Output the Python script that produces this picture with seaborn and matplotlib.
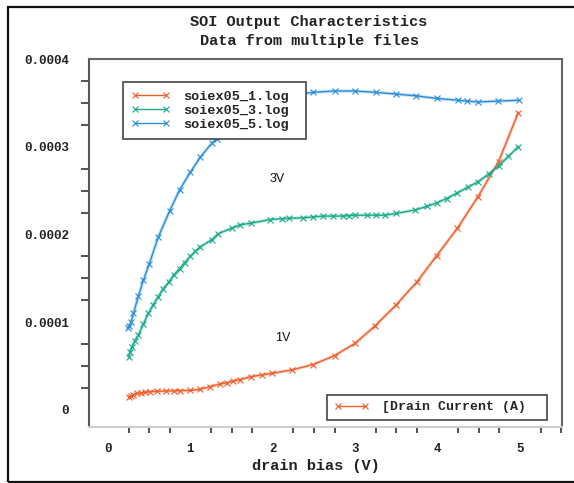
import matplotlib
matplotlib.use("Agg")
import matplotlib.pyplot as plt
from matplotlib.lines import Line2D
from matplotlib.patches import Rectangle
from matplotlib.ticker import MultipleLocator
import seaborn as sns
import pandas as pd

# ---- data ----
v1_x = [0.25, 0.28, 0.30, 0.35, 0.40, 0.45, 0.51, 0.60, 0.71, 0.80, 0.87, 1.00,
        1.12, 1.24, 1.36, 1.44, 1.52, 1.60, 1.74, 1.87, 1.99, 2.23, 2.49, 2.75,
        3.00, 3.24, 3.50, 3.75, 3.99, 4.24, 4.49, 4.74, 4.98]
v1_y = [0.152, 0.160, 0.170, 0.190, 0.195, 0.200, 0.209, 0.213, 0.216, 0.218,
        0.220, 0.222, 0.236, 0.266, 0.296, 0.310, 0.330, 0.345, 0.380, 0.400,
        0.418, 0.456, 0.518, 0.620, 0.760, 0.957, 1.200, 1.460, 1.760, 2.070,
        2.430, 2.830, 3.390]

v3_x = [0.25, 0.27, 0.29, 0.33, 0.37, 0.43, 0.49, 0.55, 0.61, 0.67, 0.74, 0.80,
        0.87, 0.93, 1.00, 1.06, 1.12, 1.26, 1.34, 1.50, 1.60, 1.74, 1.97, 2.11,
        2.20, 2.37, 2.49, 2.61, 2.73, 2.85, 2.92, 3.00, 3.14, 3.25, 3.36, 3.50,
        3.73, 3.87, 3.99, 4.11, 4.23, 4.37, 4.49, 4.62, 4.74, 4.86, 4.98]
v3_y = [0.608, 0.660, 0.722, 0.790, 0.855, 0.980, 1.100, 1.200, 1.290, 1.380,
        1.460, 1.540, 1.610, 1.680, 1.750, 1.810, 1.860, 1.940, 2.010, 2.070,
        2.110, 2.130, 2.170, 2.180, 2.185, 2.190, 2.200, 2.210, 2.210, 2.210,
        2.215, 2.220, 2.220, 2.220, 2.220, 2.240, 2.280, 2.320, 2.360, 2.410,
        2.470, 2.540, 2.600, 2.690, 2.780, 2.890, 3.000]

v5_x = [0.24, 0.26, 0.28, 0.31, 0.37, 0.43, 0.50, 0.61, 0.75, 0.87, 1.00, 1.12,
        1.26, 1.32, 1.50, 1.75, 2.00, 2.25, 2.49, 2.75, 3.00, 3.25, 3.50, 3.74,
        3.99, 4.25, 4.36, 4.49, 4.73, 4.99]
v5_y = [0.934, 0.960, 1.000, 1.100, 1.300, 1.480, 1.660, 1.970, 2.270, 2.510,
        2.710, 2.880, 3.040, 3.090, 3.270, 3.450, 3.540, 3.590, 3.620, 3.635,
        3.635, 3.620, 3.600, 3.580, 3.550, 3.530, 3.520, 3.510, 3.520, 3.530]

y_scale = 1e-4
file_names = ["soiex05_1.log", "soiex05_3.log", "soiex05_5.log"]
colors = ["#ef5f2c", "#1aab8a", "#2b8fd8"]
yticks = [0, 0.0001, 0.0002, 0.0003, 0.0004]
ytick_labels = ["0", "0.0001", "0.0002", "0.0003", "0.0004"]
xticks = [0, 1, 2, 3, 4, 5]
xtick_labels = ["0", "1", "2", "3", "4", "5"]
title_lines = ["SOI Output Characteristics", "Data from multiple files"]
xlabel = "drain bias (V)"
second_legend_label = "[Drain Current (A)"
annotations = [("3V", 2.05, 0.000263), ("1V", 2.12, 0.0000821)]

series = [(v1_x, v1_y), (v3_x, v3_y), (v5_x, v5_y)]

sns.set_style("white")
mono = ["Liberation Mono", "DejaVu Sans Mono"]

fig = plt.figure(figsize=(5.74, 4.83), dpi=100)
ax = fig.add_axes([89 / 574, 1 - 427 / 483, 473 / 574, 368 / 483])

for name, (xs, ys), c in zip(file_names, series, colors):
    df = pd.DataFrame({"x": xs, "y": [v * y_scale for v in ys]})
    sns.lineplot(data=df, x="x", y="y", ax=ax, color=c, linewidth=2.4,
                 alpha=0.28, sort=False, legend=False)
    sns.lineplot(data=df, x="x", y="y", ax=ax, color=c, linewidth=1.0,
                 marker="x", markersize=4.5, markeredgewidth=0.8,
                 markeredgecolor=c, sort=False, legend=False)

ax.set_xlim(-0.23, 5.51)
ax.set_ylim(-0.0000194, 0.0004)
ax.set_yticks(yticks, labels=ytick_labels)
ax.set_xticks(xticks, labels=xtick_labels)
ax.xaxis.set_minor_locator(MultipleLocator(0.25))
ax.yaxis.set_minor_locator(MultipleLocator(0.000025))

ax.tick_params(axis="y", which="major", direction="out", length=11.5, width=1.3,
               color="#aaaaaa", pad=3, labelsize=9, labelcolor="#222222")
ax.tick_params(axis="y", which="minor", direction="out", length=5.8, width=1.3,
               color="#444444", left=True)
ax.tick_params(axis="x", which="major", direction="out", length=6.5, width=1.3,
               color="#222222", pad=5, labelsize=9, labelcolor="#222222")
ax.tick_params(axis="x", which="minor", direction="out", length=4, width=1.2,
               color="#333333", bottom=True)
for lab in ax.get_xticklabels() + ax.get_yticklabels():
    lab.set_family(mono)
    lab.set_fontweight("bold")

ax.set_xlabel(xlabel, family=mono, fontweight="bold", fontsize=11, color="#222222")
ax.xaxis.set_label_coords((316 - 89) / 473, (427 - 466) / 368)
ax.xaxis.label.set_va("center")
ax.set_ylabel("")

for side, col in [("left", "#555555"), ("top", "#666666"), ("right", "#666666"),
                  ("bottom", "#cccccc")]:
    ax.spines[side].set_visible(True)
    ax.spines[side].set_color(col)
    ax.spines[side].set_linewidth(1.5)

for txt, x, y in annotations:
    ax.text(x, y, txt, fontsize=9, family=["Liberation Sans", "DejaVu Sans"],
            ha="center", va="center", color="#111111")

# legend 1
handles = [Line2D([], [], color=c, lw=1.0, marker="x", markersize=5,
                  markeredgewidth=0.8) for c in colors]
leg1 = ax.legend(handles, file_names, loc="upper left",
                 bbox_to_anchor=((123 - 89) / 473, (427 - 82) / 368,
                                 (306 - 123) / 473, 0.0),
                 mode="expand",
                 borderaxespad=0, numpoints=2, handlelength=2.9,
                 handletextpad=1.0, labelspacing=0.12, borderpad=0.6,
                 fancybox=False, framealpha=1, edgecolor="#444444",
                 prop={"family": mono, "weight": "bold", "size": 9.7})
leg1.get_frame().set_linewidth(1.2)
ax.add_artist(leg1)

# legend 2
h2 = [Line2D([], [], color=colors[0], lw=1.0, marker="x", markersize=5,
             markeredgewidth=0.8)]
leg2 = ax.legend(h2, [second_legend_label], loc="lower left",
                 bbox_to_anchor=((327 - 89) / 473, (427 - 420) / 368,
                                 (547 - 327) / 473, (420 - 392) / 368),
                 mode="expand", borderaxespad=0, numpoints=2, handlelength=2.7,
                 handletextpad=1.0, borderpad=0.5, fancybox=False, framealpha=1,
                 edgecolor="#444444",
                 prop={"family": mono, "weight": "bold", "size": 9.5})
leg2.get_frame().set_linewidth(1.2)

# titles
fig.text(309 / 574, 1 - 22 / 483, title_lines[0], ha="center", va="center",
         family=mono, fontweight="bold", fontsize=11, color="#222222")
fig.text(309 / 574, 1 - 41 / 483, title_lines[1], ha="center", va="center",
         family=mono, fontweight="bold", fontsize=11, color="#222222")

# outer frame
fig.patches.append(Rectangle((8 / 574, 1 / 483), 1.0, 1 - 7.5 / 483,
                             transform=fig.transFigure, fill=False,
                             edgecolor="#111111", linewidth=1.6))

fig.savefig("out.png", dpi=100)
